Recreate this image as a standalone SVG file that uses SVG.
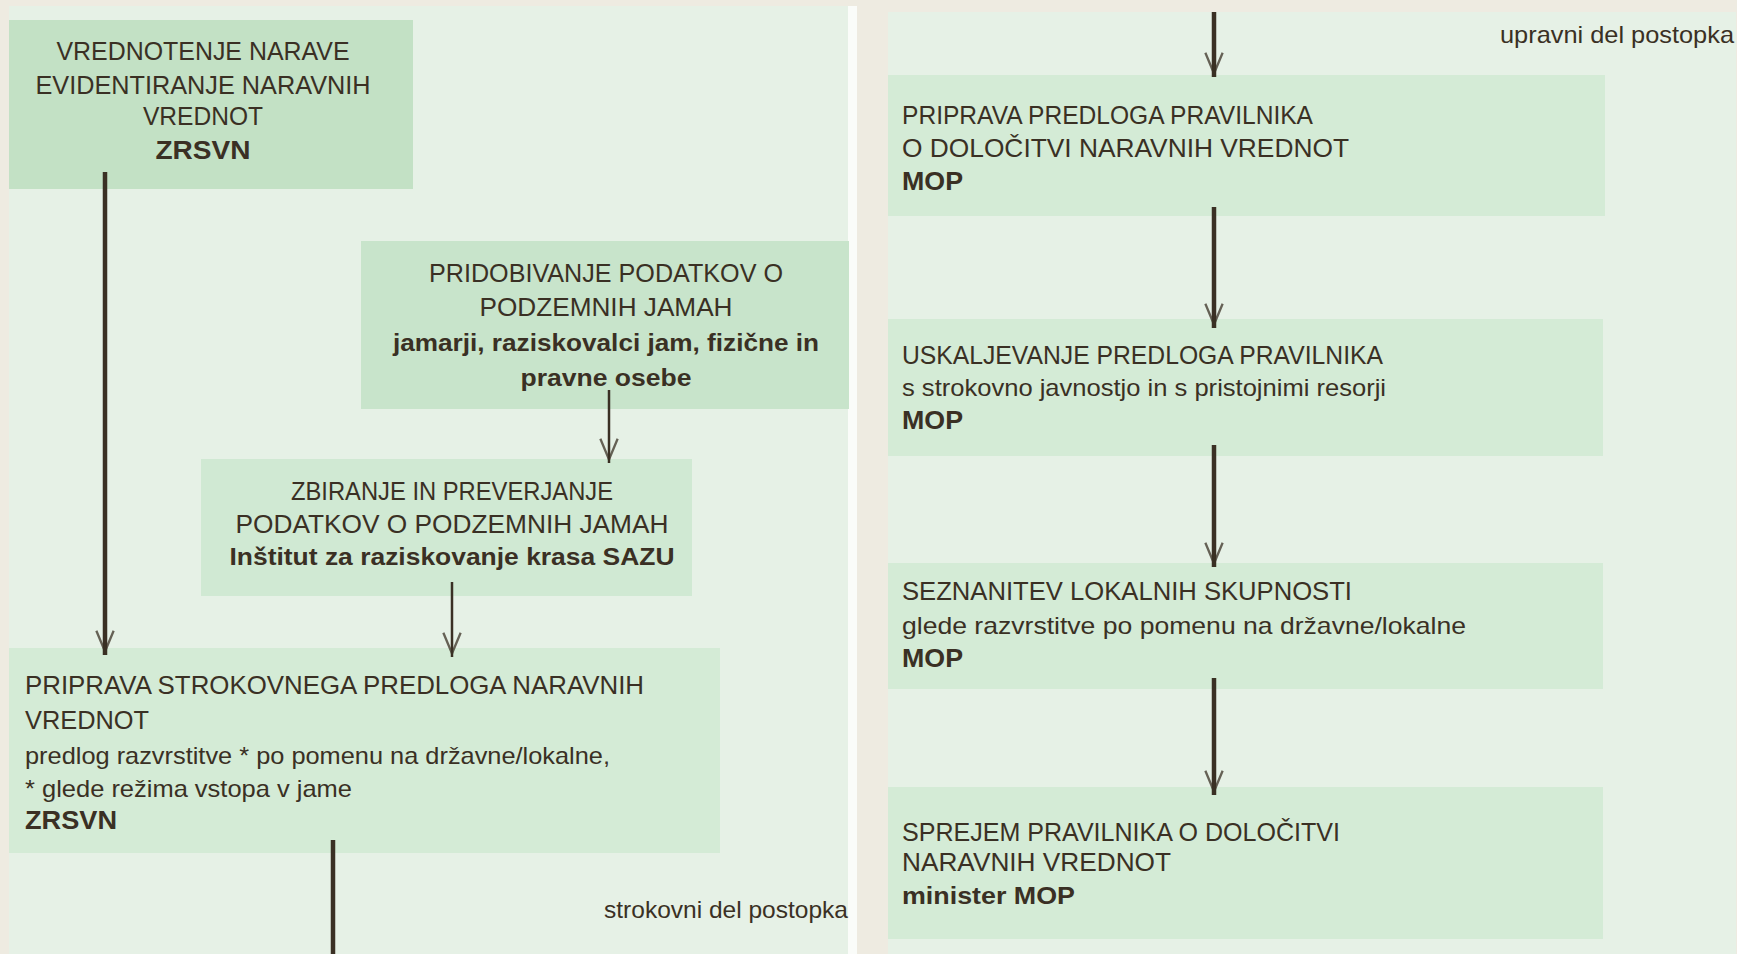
<svg xmlns="http://www.w3.org/2000/svg" width="1737" height="954" viewBox="0 0 1737 954">
<style>
text{font-family:"Liberation Sans",Arial,sans-serif;fill:#3a3024}
.c{font-size:26px}
.l{font-size:24px}
.b{font-weight:bold}
.m{text-anchor:middle}
.e{text-anchor:end}
.thick{stroke:#3a3024;stroke-width:4.5;fill:none}
.thin{stroke:#3a3024;stroke-width:2.5;fill:none}
</style>
<defs>
<marker id="v" markerUnits="userSpaceOnUse" markerWidth="30" markerHeight="30" viewBox="-24 -10 26 20" refX="0" refY="0" orient="auto" overflow="visible">
<path d="M-21,-7.5 L-3,0 L-21,7.5" fill="none" stroke="#3a3024" stroke-width="2" stroke-opacity="0.75"/>
</marker>
</defs>
<rect x="0" y="0" width="1737" height="954" fill="#eeebe1"/>
<rect x="9" y="6" width="839" height="948" fill="#e6f1e6"/>
<rect x="848" y="6" width="9" height="948" fill="#fafcf9"/>
<rect x="888" y="12" width="848" height="942" fill="#e6f1e6"/>

<g id="nodeA">
<rect x="9" y="20" width="404" height="169" fill="#c3e1c5"/>
<text class="c m" x="203" y="60" textLength="293" lengthAdjust="spacingAndGlyphs">VREDNOTENJE NARAVE</text>
<text class="c m" x="203" y="94" textLength="335" lengthAdjust="spacingAndGlyphs">EVIDENTIRANJE NARAVNIH</text>
<text class="c m" x="203" y="125" textLength="120" lengthAdjust="spacingAndGlyphs">VREDNOT</text>
<text class="c m b" x="203" y="159" textLength="95" lengthAdjust="spacingAndGlyphs">ZRSVN</text>
</g>

<g id="nodeB">
<rect x="361" y="241" width="488" height="168" fill="#c8e4cb"/>
<text class="c m" x="606" y="282" textLength="354" lengthAdjust="spacingAndGlyphs">PRIDOBIVANJE PODATKOV O</text>
<text class="c m" x="606" y="316" textLength="253" lengthAdjust="spacingAndGlyphs">PODZEMNIH JAMAH</text>
<text class="l m b" x="606" y="351" textLength="426" lengthAdjust="spacingAndGlyphs">jamarji, raziskovalci jam, fizične in</text>
<text class="l m b" x="606" y="386" textLength="171" lengthAdjust="spacingAndGlyphs">pravne osebe</text>
</g>

<g id="nodeC">
<rect x="201" y="459" width="491" height="137" fill="#d0e9d3"/>
<text class="c m" x="452" y="500" textLength="322" lengthAdjust="spacingAndGlyphs">ZBIRANJE IN PREVERJANJE</text>
<text class="c m" x="452" y="533" textLength="433" lengthAdjust="spacingAndGlyphs">PODATKOV O PODZEMNIH JAMAH</text>
<text class="l m b" x="452" y="565" textLength="445" lengthAdjust="spacingAndGlyphs">Inštitut za raziskovanje krasa SAZU</text>
</g>

<g id="nodeD">
<rect x="9" y="648" width="711" height="205" fill="#d4ebd6"/>
<text class="c" x="25" y="694" textLength="619" lengthAdjust="spacingAndGlyphs">PRIPRAVA STROKOVNEGA PREDLOGA NARAVNIH</text>
<text class="c" x="25" y="729" textLength="124" lengthAdjust="spacingAndGlyphs">VREDNOT</text>
<text class="l" x="25" y="764" textLength="585" lengthAdjust="spacingAndGlyphs">predlog razvrstitve * po pomenu na državne/lokalne,</text>
<text class="l" x="25" y="797" textLength="327" lengthAdjust="spacingAndGlyphs">* glede režima vstopa v jame</text>
<text class="c b" x="25" y="829" textLength="92" lengthAdjust="spacingAndGlyphs">ZRSVN</text>
</g>

<g id="labelLeft">
<text class="l e" x="848" y="918" textLength="244" lengthAdjust="spacingAndGlyphs">strokovni del postopka</text>
</g>
<g id="labelRight">
<text class="l e" x="1734" y="43" textLength="234" lengthAdjust="spacingAndGlyphs">upravni del postopka</text>
</g>

<g id="nodeE">
<rect x="888" y="75" width="717" height="141" fill="#d4ebd6"/>
<text class="c" x="902" y="124" textLength="411" lengthAdjust="spacingAndGlyphs">PRIPRAVA PREDLOGA PRAVILNIKA</text>
<text class="c" x="902" y="157" textLength="447" lengthAdjust="spacingAndGlyphs">O DOLOČITVI NARAVNIH VREDNOT</text>
<text class="c b" x="902" y="190" textLength="61" lengthAdjust="spacingAndGlyphs">MOP</text>
</g>

<g id="nodeF">
<rect x="888" y="319" width="715" height="137" fill="#d4ebd6"/>
<text class="c" x="902" y="364" textLength="481" lengthAdjust="spacingAndGlyphs">USKALJEVANJE PREDLOGA PRAVILNIKA</text>
<text class="l" x="902" y="396" textLength="484" lengthAdjust="spacingAndGlyphs">s strokovno javnostjo in s pristojnimi resorji</text>
<text class="c b" x="902" y="429" textLength="61" lengthAdjust="spacingAndGlyphs">MOP</text>
</g>

<g id="nodeG">
<rect x="888" y="563" width="715" height="126" fill="#d4ebd6"/>
<text class="c" x="902" y="600" textLength="450" lengthAdjust="spacingAndGlyphs">SEZNANITEV LOKALNIH SKUPNOSTI</text>
<text class="l" x="902" y="634" textLength="564" lengthAdjust="spacingAndGlyphs">glede razvrstitve po pomenu na državne/lokalne</text>
<text class="c b" x="902" y="667" textLength="61" lengthAdjust="spacingAndGlyphs">MOP</text>
</g>

<g id="nodeH">
<rect x="888" y="787" width="715" height="152" fill="#d4ebd6"/>
<text class="c" x="902" y="841" textLength="438" lengthAdjust="spacingAndGlyphs">SPREJEM PRAVILNIKA O DOLOČITVI</text>
<text class="c" x="902" y="871" textLength="269" lengthAdjust="spacingAndGlyphs">NARAVNIH VREDNOT</text>
<text class="l b" x="902" y="904" textLength="173" lengthAdjust="spacingAndGlyphs">minister MOP</text>
</g>

<g id="connectors">
<line class="thick" x1="105" y1="172" x2="105" y2="655" marker-end="url(#v)"/>
<line class="thin" x1="609" y1="390" x2="609" y2="463" marker-end="url(#v)"/>
<line class="thin" x1="452" y1="582" x2="452" y2="657" marker-end="url(#v)"/>
<line class="thick" x1="333" y1="840" x2="333" y2="954"/>
<line class="thick" x1="1214" y1="12" x2="1214" y2="77" marker-end="url(#v)"/>
<line class="thick" x1="1214" y1="207" x2="1214" y2="328" marker-end="url(#v)"/>
<line class="thick" x1="1214" y1="445" x2="1214" y2="567" marker-end="url(#v)"/>
<line class="thick" x1="1214" y1="678" x2="1214" y2="795" marker-end="url(#v)"/>
</g>
</svg>
